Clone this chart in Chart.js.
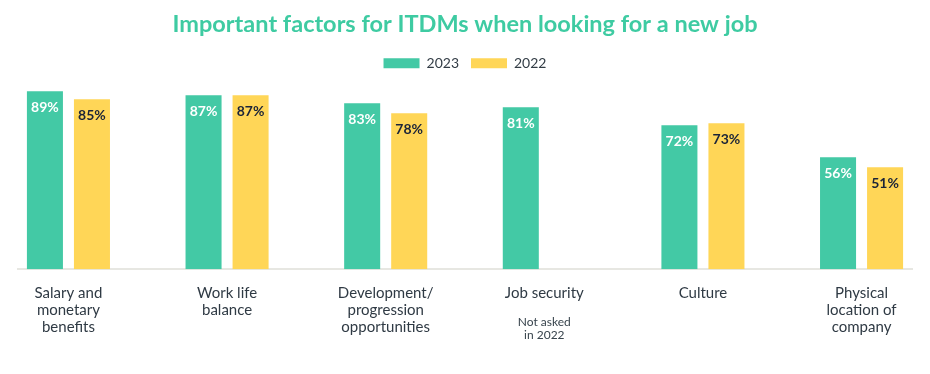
<!DOCTYPE html>
<html lang="en">
<head>
    <meta charset="UTF-8">
    <title>Important factors for ITDMs</title>
    <script src="https://cdn.jsdelivr.net/npm/chart.js"></script>
    <style>
        body {
            margin: 0;
            padding: 0;
            background: #ffffff;
        }
        #chartContainer {
            width: 930px;
            height: 374px;
        }
    </style>
</head>
<body>
    <div id="chartContainer">
        <canvas id="factorsChart"></canvas>
    </div>
    <script>
        // Data
        const categories = [
            ['Salary and', 'monetary', 'benefits'],
            ['Work life', 'balance'],
            ['Development/', 'progression', 'opportunities'],
            ['Job security'],
            ['Culture'],
            ['Physical', 'location of', 'company']
        ];
        const values2023 = [89, 87, 83, 81, 72, 56];
        const values2022 = [85, 87, 78, null, 73, 51];
        const notes = { 3: ['Not asked', 'in 2022'] };

        const GREEN = '#43c9a5';
        const YELLOW = '#ffd657';
        const FONT = 'Lato, "DejaVu Sans", sans-serif';

        // percent labels inside the top of each bar
        const barLabels = {
            id: 'barLabels',
            afterDatasetsDraw(chart) {
                const ctx = chart.ctx;
                ctx.save();
                ctx.font = 'bold 14px ' + FONT;
                ctx.textAlign = 'center';
                ctx.textBaseline = 'middle';
                chart.data.datasets.forEach((ds, di) => {
                    const meta = chart.getDatasetMeta(di);
                    meta.data.forEach((bar, i) => {
                        const v = ds.data[i].y;
                        if (v === null) return;
                        ctx.fillStyle = di === 0 ? '#ffffff' : '#1b2438';
                        ctx.fillText(v + '%', bar.x, bar.y + 16);
                    });
                });
                ctx.restore();
            }
        };

        // small note under a category label
        const categoryNotes = {
            id: 'categoryNotes',
            afterDraw(chart) {
                const ctx = chart.ctx;
                const xs = chart.scales.x;
                ctx.save();
                ctx.font = '12px ' + FONT;
                ctx.fillStyle = '#38444d';
                ctx.textAlign = 'center';
                ctx.textBaseline = 'middle';
                Object.keys(notes).forEach(k => {
                    const x = xs.getPixelForValue(Number(k));
                    notes[k].forEach((line, j) => {
                        ctx.fillText(line, x, 322 + j * 13);
                    });
                });
                ctx.restore();
            }
        };

        const ctx = document.getElementById('factorsChart').getContext('2d');
        new Chart(ctx, {
            type: 'bar',
            data: {
                datasets: [{
                    label: '2023',
                    data: values2023.map((v, i) => ({ x: i, y: v })),
                    backgroundColor: GREEN
                }, {
                    label: '2022',
                    data: values2022.map((v, i) => ({ x: i, y: v })),
                    backgroundColor: YELLOW
                }]
            },
            options: {
                responsive: true,
                maintainAspectRatio: false,
                animation: false,
                categoryPercentage: 0.593,
                barPercentage: 0.766,
                layout: {
                    padding: { left: 18, right: 18, top: 0, bottom: 31 }
                },
                plugins: {
                    title: {
                        display: true,
                        text: 'Important factors for ITDMs when looking for a new job',
                        color: '#3ecba2',
                        font: { family: FONT, size: 23.5, weight: 'bold' },
                        padding: { top: 10, bottom: 6 }
                    },
                    legend: {
                        maxHeight: 25,
                        labels: {
                            boxWidth: 36,
                            boxHeight: 10,
                            color: '#333d46',
                            font: { family: FONT, size: 14 },
                            padding: 12
                        }
                    },
                    tooltip: { enabled: false }
                },
                scales: {
                    x: {
                        type: 'linear',
                        offset: false,
                        min: -0.318,
                        max: 5.318,
                        grid: { display: false, offset: false },
                        border: { color: '#e7e7e2', width: 2 },
                        afterBuildTicks(scale) {
                            scale.ticks = categories.map((c, i) => ({ value: i }));
                        },
                        ticks: {
                            padding: 7,
                            color: '#2f3a44',
                            font: { family: FONT, size: 15, lineHeight: 1.15 },
                            maxRotation: 0,
                            autoSkip: false,
                            callback: v => categories[v]
                        }
                    },
                    y: {
                        display: false,
                        min: 0,
                        max: 100
                    }
                }
            },
            plugins: [barLabels, categoryNotes]
        });
    </script>
</body>
</html>
